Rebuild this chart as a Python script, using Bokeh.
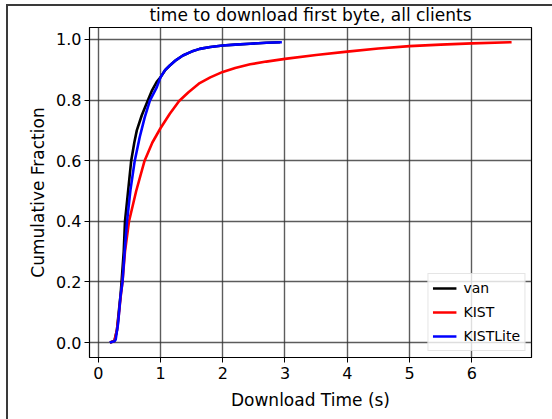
from bokeh.plotting import figure
from bokeh.models import Range1d, FixedTicker, Legend, LegendItem
from bokeh.embed import file_html
from bokeh.resources import INLINE

# ---- data ----
van_time = [0.19, 0.26, 0.30, 0.33, 0.36, 0.375, 0.41, 0.43, 0.47, 0.53, 0.58, 0.62, 0.70,
            0.80, 0.86, 0.94, 1.0, 1.08, 1.15, 1.25, 1.36, 1.5, 1.63, 1.8, 2.0, 2.2, 2.44, 2.7, 2.92]
van_frac = [0.0, 0.005, 0.04, 0.10, 0.16, 0.20, 0.30, 0.40, 0.48, 0.60, 0.66, 0.70, 0.75,
            0.80, 0.83, 0.86, 0.875, 0.90, 0.914, 0.932, 0.947, 0.96, 0.969, 0.975, 0.98, 0.983, 0.986, 0.989, 0.991]

kist_time = [0.19, 0.26, 0.30, 0.33, 0.36, 0.39, 0.43, 0.495, 0.61, 0.745, 0.87, 1.0, 1.15,
             1.3, 1.45, 1.63, 1.8, 2.0, 2.2, 2.44, 2.7, 3.0, 3.5, 4.0, 4.5, 5.0, 5.5, 6.0, 6.64]
kist_frac = [0.0, 0.005, 0.04, 0.09, 0.15, 0.2, 0.3, 0.4, 0.5, 0.6, 0.66, 0.707, 0.755,
             0.797, 0.826, 0.856, 0.875, 0.893, 0.906, 0.918, 0.927, 0.936, 0.949, 0.96, 0.97, 0.978, 0.983, 0.987, 0.991]

kistlite_time = [0.185, 0.26, 0.28, 0.32, 0.357, 0.39, 0.426, 0.463, 0.517, 0.587, 0.667, 0.747,
                 0.83, 0.936, 1.0, 1.07, 1.15, 1.25, 1.36, 1.5, 1.63, 1.8, 2.0, 2.2, 2.44, 2.7, 2.95]
kistlite_frac = [0.0, 0.004, 0.009, 0.064, 0.151, 0.2, 0.305, 0.4, 0.502, 0.6, 0.678, 0.743,
                 0.798, 0.84, 0.875, 0.898, 0.914, 0.932, 0.947, 0.96, 0.969, 0.975, 0.98, 0.983, 0.986, 0.989, 0.991]

x_ticks = [0, 1, 2, 3, 4, 5, 6]
y_ticks = [0.0, 0.2, 0.4, 0.6, 0.8, 1.0]

FONT = "DejaVu Sans"

p = figure(width=552, height=419, output_backend="svg", toolbar_location=None,
           x_range=Range1d(-0.14, 6.96), y_range=Range1d(-0.0495, 1.0395),
           min_border_left=89, min_border_right=21, min_border_top=27, min_border_bottom=62,
           title="time to download first byte, all clients",
           styles={"background-color": "white",
                   "background-image": "linear-gradient(#3a3a3a, #3a3a3a), linear-gradient(#3a3a3a, #3a3a3a)",
                   "background-size": "2px 100%, 100% 2px",
                   "background-position": "6px 4px, 6px 4px",
                   "background-repeat": "no-repeat"})
p.border_fill_alpha = 0.0
p.background_fill_color = "white"

p.title.align = "center"
p.title.text_font = FONT
p.title.text_font_size = "17px"
p.title.text_font_style = "normal"
p.title.text_color = "black"
p.title.standoff = 5
p.title.offset = 0

p.outline_line_color = "black"
p.outline_line_width = 1.2
p.outline_line_alpha = 1.0

for ax in (p.xaxis[0], p.yaxis[0]):
    ax.major_label_text_font = FONT
    ax.major_label_text_font_size = "16px"
    ax.major_label_text_color = "black"
    ax.axis_label_text_font = FONT
    ax.axis_label_text_font_size = "17px"
    ax.axis_label_text_font_style = "normal"
    ax.axis_label_text_color = "black"
    ax.major_tick_out = 5
    ax.major_tick_in = 0
    ax.minor_tick_out = 0
    ax.minor_tick_in = 0
    ax.major_tick_line_color = "black"
    ax.axis_line_color = "black"

p.xaxis.major_label_standoff = 4
p.xaxis.axis_label_standoff = 8
p.yaxis.major_label_standoff = 3
p.yaxis.axis_label_standoff = 5

p.xaxis.ticker = FixedTicker(ticks=x_ticks)
p.yaxis.ticker = FixedTicker(ticks=y_ticks)
p.yaxis.major_label_overrides = {t: f"{t:.1f}" for t in y_ticks}
p.xaxis.axis_label = "Download Time (s)"
p.yaxis.axis_label = "Cumulative Fraction"

p.xgrid.ticker = FixedTicker(ticks=x_ticks)
p.ygrid.ticker = FixedTicker(ticks=y_ticks)
for g in (p.xgrid[0], p.ygrid[0]):
    g.grid_line_color = "#333333"
    g.grid_line_alpha = 0.8
    g.grid_line_width = 1.4

r_van = p.line(van_time, van_frac, line_color="black", line_width=2.6)
r_kist = p.line(kist_time, kist_frac, line_color="red", line_width=2.6)
r_kl = p.line(kistlite_time, kistlite_frac, line_color="blue", line_width=2.6)

legend = Legend(items=[LegendItem(label="van", renderers=[r_van]),
                       LegendItem(label="KIST", renderers=[r_kist]),
                       LegendItem(label="KISTLite", renderers=[r_kl])],
                location="bottom_right")
legend.label_text_font = FONT
legend.label_text_font_size = "14px"
legend.label_text_color = "black"
legend.glyph_width = 24
legend.glyph_height = 20
legend.label_height = 20
legend.label_standoff = 7
legend.spacing = 4
legend.padding = 4
legend.margin = 6
legend.border_line_color = "#cccccc"
legend.border_line_width = 1
legend.background_fill_alpha = 0.8
p.add_layout(legend)

open("out.html", "w").write(file_html(p, INLINE))
